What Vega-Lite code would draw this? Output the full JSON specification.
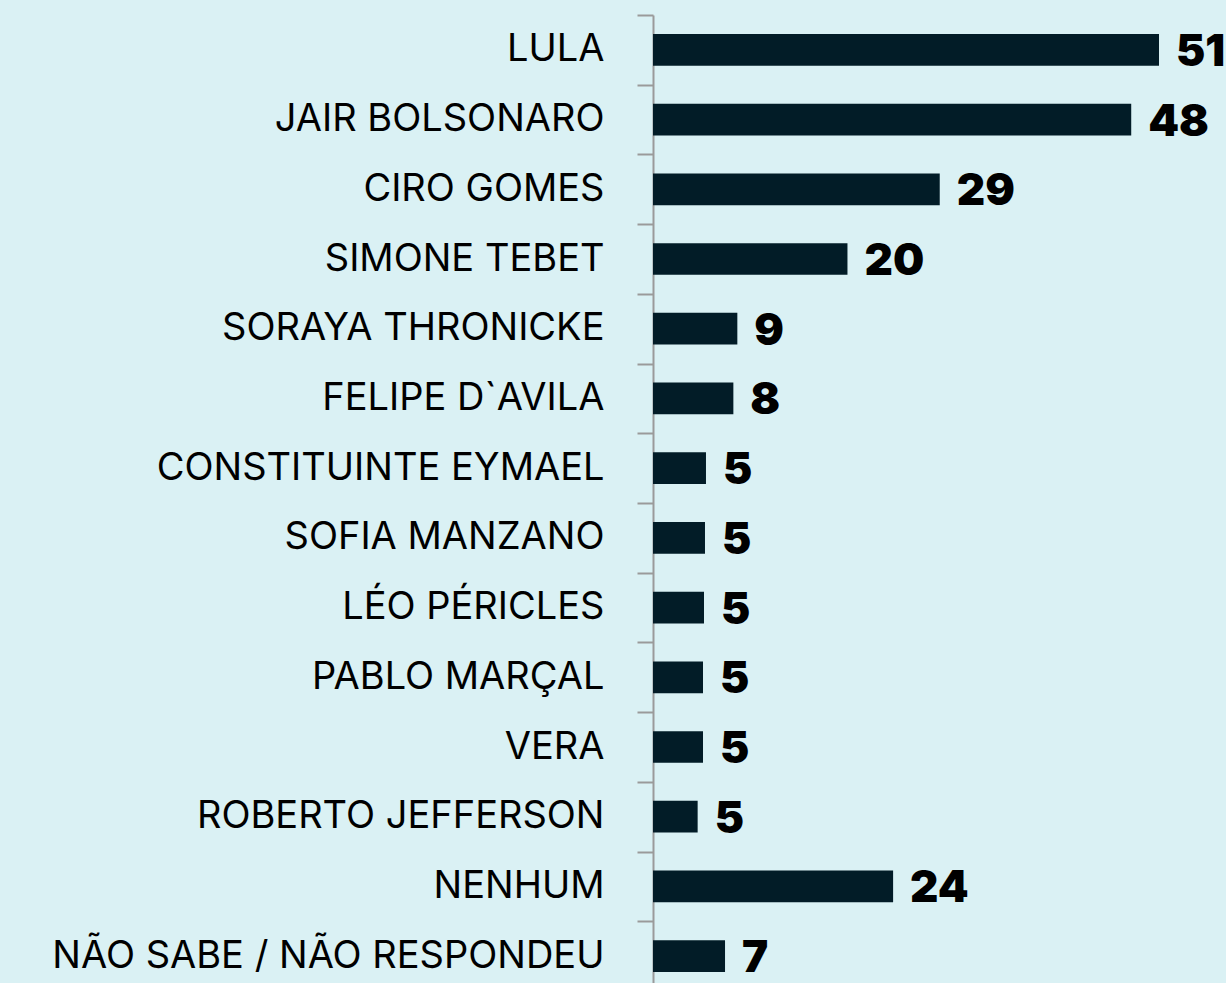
{
  "$schema": "https://vega.github.io/schema/vega-lite/v6.json",
  "autosize": {"type": "none"},
  "padding": {"left": 653, "top": 15, "right": 67, "bottom": 0},
  "width": 506,
  "height": 976,
  "background": "#daf1f4",
  "config": {"view": {"stroke": null}},
  "data": {"values": [
    {"candidato": "LULA", "barra": 51, "valor": "51"},
    {"candidato": "JAIR BOLSONARO", "barra": 48.2, "valor": "48"},
    {"candidato": "CIRO GOMES", "barra": 28.9, "valor": "29"},
    {"candidato": "SIMONE TEBET", "barra": 19.6, "valor": "20"},
    {"candidato": "SORAYA THRONICKE", "barra": 8.5, "valor": "9"},
    {"candidato": "FELIPE D`AVILA", "barra": 8.1, "valor": "8"},
    {"candidato": "CONSTITUINTE EYMAEL", "barra": 5.34, "valor": "5"},
    {"candidato": "SOFIA MANZANO", "barra": 5.24, "valor": "5"},
    {"candidato": "LÉO PÉRICLES", "barra": 5.14, "valor": "5"},
    {"candidato": "PABLO MARÇAL", "barra": 5.04, "valor": "5"},
    {"candidato": "VERA", "barra": 5.04, "valor": "5"},
    {"candidato": "ROBERTO JEFFERSON", "barra": 4.5, "valor": "5"},
    {"candidato": "NENHUM", "barra": 24.2, "valor": "24"},
    {"candidato": "NÃO SABE / NÃO RESPONDEU", "barra": 7.26, "valor": "7"}
  ]},
  "encoding": {
    "y": {
      "field": "candidato", "type": "nominal", "sort": null,
      "scale": {"paddingInner": 0.545, "paddingOuter": 0.2725},
      "axis": {
        "title": null,
        "domainColor": "#9a9a9a", "domainWidth": 2,
        "tickColor": "#9a9a9a", "tickWidth": 2, "tickSize": 16,
        "tickBand": "center",
        "tickOffset": -34.85,
        "labelOffset": 34.85,
        "labelPadding": 33,
        "labelFont": "Inter", "labelFontSize": 38, "labelColor": "#000000",
        "labelFontWeight": "normal", "labelLimit": 700
      }
    },
    "x": {
      "field": "barra", "type": "quantitative",
      "scale": {"domain": [0, 51], "nice": false},
      "axis": null
    }
  },
  "layer": [
    {"mark": {"type": "bar", "color": "#021c27"}},
    {
      "mark": {"type": "text", "align": "left", "baseline": "middle", "dx": 17, "dy": 3,
        "font": "Inter", "fontSize": 44, "fontWeight": 900, "color": "#000000"},
      "encoding": {"text": {"field": "valor"}}
    }
  ]
}
